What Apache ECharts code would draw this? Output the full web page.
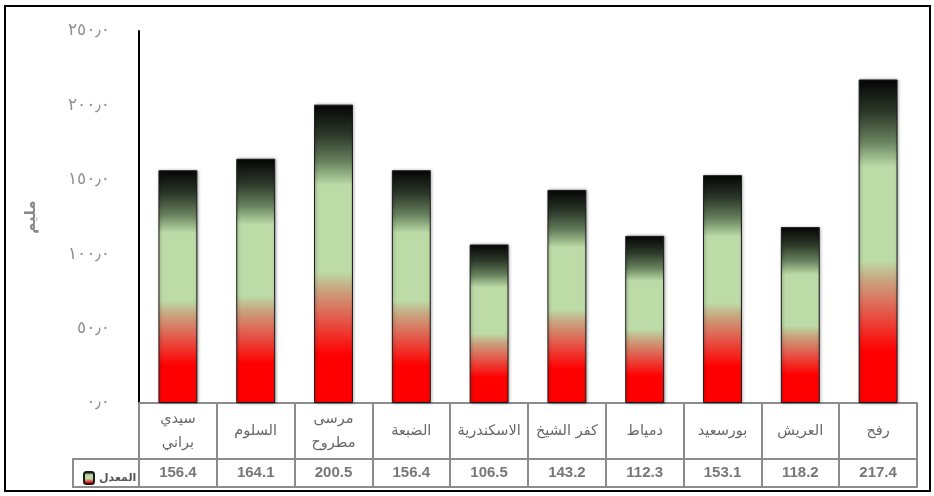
<!DOCTYPE html>
<html>
<head>
<meta charset="utf-8">
<script src="https://cdn.jsdelivr.net/npm/echarts@6/dist/echarts.min.js"></script>
<style>
  html, body { margin: 0; padding: 0; background: #fff; }
  #main { width: 934px; height: 496px; }
</style>
</head>
<body>
<div id="main"></div>
<script>
// المحطات (من اليسار الى اليمين)
var stations = ['سيدي\nبراني', 'السلوم', 'مرسى\nمطروح', 'الضبعة', 'الاسكندرية', 'كفر الشيخ', 'دمياط', 'بورسعيد', 'العريش', 'رفح'];
// المعدل (مليم)
var rainValues = [156.4, 164.1, 200.5, 156.4, 106.5, 143.2, 112.3, 153.1, 118.2, 217.4];
var seriesName = 'المعدل';
var axisTitle = 'مليم';

var arDigits = '٠١٢٣٤٥٦٧٨٩';
//  ارقام عربية للمحور
function toArabic(v) {
  return v.toFixed(1).replace(/\d/g, function (d) { return arDigits[d]; }).replace('.', '٫');
}

var barGradient = new echarts.graphic.LinearGradient(0, 0, 0, 1, [
  { offset: 0, color: '#050505' },
  { offset: 0.1, color: '#2c3829' },
  { offset: 0.19, color: '#66805d' },
  { offset: 0.27, color: '#bcdba7' },
  { offset: 0.56, color: '#bcdba7' },
  { offset: 0.62, color: '#c9a47f' },
  { offset: 0.72, color: '#e4584a' },
  { offset: 0.84, color: '#ff0000' },
  { offset: 1, color: '#ff0000' }
]);

var myChart = echarts.init(document.getElementById('main'));
var option = {
  backgroundColor: '#fff',
  animation: false,
  grid: { left: 139, right: 17, top: 31, bottom: 93 },
  legend: {
    left: 78,
    top: 466,
    itemWidth: 10,
    itemHeight: 12,
    itemGap: 4,
    textStyle: { color: '#555', fontSize: 11, fontWeight: 'bold', fontFamily: 'DejaVu Sans' },
    data: [seriesName]
  },
  xAxis: [
    {
      type: 'category',
      data: stations,
      position: 'bottom',
      axisLine: { show: true, lineStyle: { color: '#8c8c8c', width: 2 } },
      axisTick: { show: true, length: 84, lineStyle: { color: '#8c8c8c', width: 2 } },
      axisLabel: {
        color: '#666',
        fontSize: 14.5,
        fontFamily: 'DejaVu Sans',
        lineHeight: 24,
        verticalAlign: 'middle',
        margin: 28,
        interval: 0
      }
    },
    {
      type: 'category',
      data: stations,
      position: 'bottom',
      offset: 56,
      axisLine: { show: true, lineStyle: { color: '#8c8c8c', width: 2 } },
      axisTick: { show: false },
      axisLabel: {
        color: '#777',
        fontSize: 15,
        fontWeight: 'bold',
        fontFamily: 'Liberation Sans',
        verticalAlign: 'middle',
        margin: 14,
        interval: 0,
        formatter: function (v, i) { return rainValues[i].toFixed(1); }
      }
    },
    {
      type: 'category',
      data: stations,
      position: 'bottom',
      offset: 84,
      axisLine: { show: true, lineStyle: { color: '#8c8c8c', width: 2 } },
      axisTick: { show: false },
      axisLabel: { show: false }
    }
  ],
  yAxis: {
    type: 'value',
    min: 0,
    max: 250,
    interval: 50,
    name: axisTitle,
    nameLocation: 'middle',
    nameRotate: 90,
    nameGap: 100,
    nameTextStyle: { color: '#888', fontSize: 15, fontWeight: 'bold', fontFamily: 'DejaVu Sans' },
    axisLine: { show: true, lineStyle: { color: '#000', width: 2 } },
    axisTick: { show: false },
    splitLine: { show: false },
    axisLabel: {
      color: '#8f8f8f',
      fontSize: 17,
      fontFamily: 'DejaVu Sans',
      margin: 29,
      formatter: function (v) { return toArabic(v); }
    }
  },
  series: [{
    name: seriesName,
    type: 'bar',
    barWidth: '50%',
    data: rainValues,
    itemStyle: {
      color: barGradient,
      borderColor: '#1a1a1a',
      borderWidth: 1,
      shadowColor: 'rgba(0,0,0,0.35)',
      shadowBlur: 3,
      shadowOffsetX: 1,
      shadowOffsetY: 0
    }
  }],
  graphic: [
    {
      type: 'rect',
      shape: { x: 5, y: 6, width: 925, height: 485 },
      style: { fill: null, stroke: '#000', lineWidth: 2 },
      silent: true
    },
    {
      type: 'rect',
      shape: { x: 73, y: 459, width: 66, height: 28 },
      style: { fill: null, stroke: '#8c8c8c', lineWidth: 2 },
      silent: true
    }
  ]
};
myChart.setOption(option);
</script>
</body>
</html>
